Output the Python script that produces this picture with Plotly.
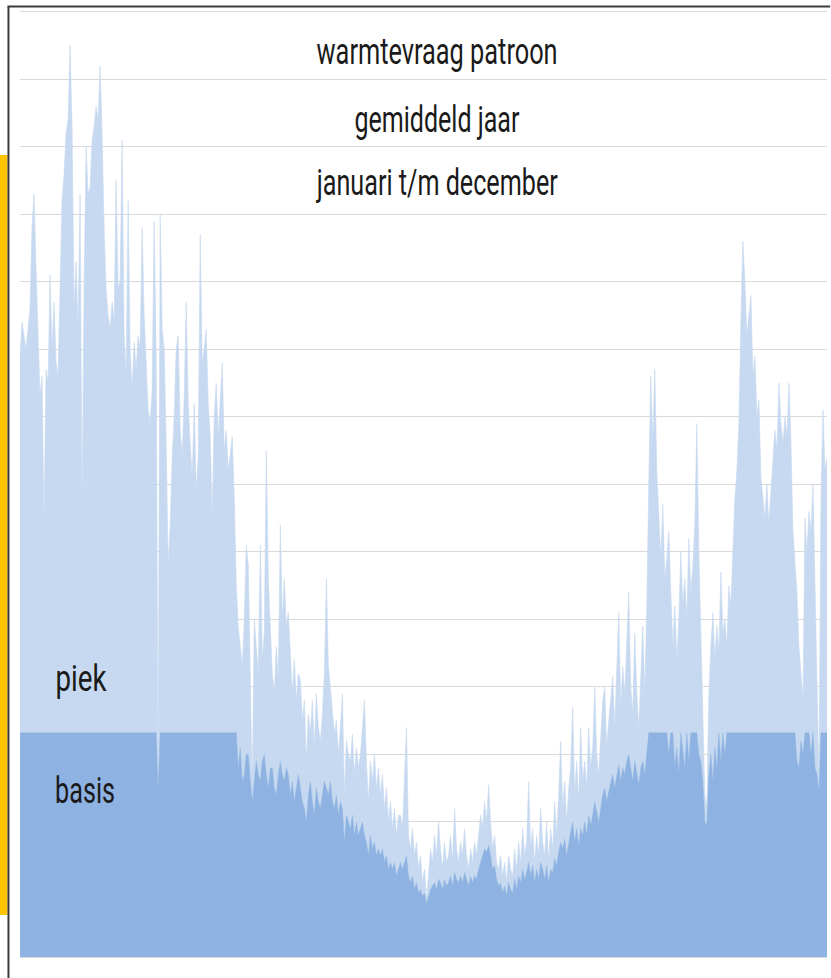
import numpy as np
import plotly.graph_objects as go

# Heat demand (hourly pattern, sampled), in grid units, Jan -> Dec
demand = [
    8.9, 9.4, 9.2, 9.0, 9.3, 9.6, 10.8, 11.3, 10.2, 9.4,
    8.3, 8.6, 6.4, 8.7, 8.5, 10.1, 9.0, 9.7, 8.8, 8.6,
    10.2, 11.2, 11.6, 12.2, 12.4, 13.5, 12.3, 9.6, 10.3, 9.3,
    11.3, 6.6, 9.9, 12.0, 11.3, 11.4, 12.1, 12.3, 12.6, 12.4,
    13.2, 12.2, 10.8, 9.9, 9.5, 9.3, 9.7, 9.4, 11.5, 9.9,
    10.0, 12.1, 9.2, 8.6, 11.2, 9.0, 8.4, 9.1, 8.7, 9.2,
    9.0, 10.8, 9.5, 8.7, 8.1, 7.9, 8.4, 10.9, 8.9, 2.45,
    11.0, 9.3, 9.0, 7.6, 5.8, 6.4, 7.4, 8.0, 9.0, 9.2,
    7.8, 7.4, 8.3, 9.7, 8.2, 7.6, 7.1, 8.2, 6.9, 7.4,
    10.7, 8.8, 9.0, 9.3, 8.2, 7.7, 6.5, 8.0, 8.5, 7.7,
    8.2, 8.8, 7.5, 7.8, 7.2, 7.5, 7.7, 6.8, 5.5, 4.9,
    4.6, 4.3, 5.0, 6.1, 5.8, 4.4, 2.5, 5.0, 4.6, 4.2,
    6.1, 4.4, 4.8, 7.5, 5.6, 4.9, 4.2, 3.9, 4.6, 4.1,
    6.4, 5.0, 5.6, 4.9, 5.1, 4.5, 3.9, 4.4, 3.8, 4.2,
    4.1, 3.5, 3.8, 2.9, 3.6, 3.3, 3.8, 3.1, 3.9, 3.4,
    3.2, 3.6, 4.2, 5.6, 4.3, 4.0, 3.6, 3.3, 3.5, 3.0,
    3.4, 3.9, 2.4, 3.2, 3.0, 2.9, 3.3, 2.7, 3.1, 2.8,
    3.0, 3.4, 3.8, 2.9, 2.3, 2.9, 2.6, 3.0, 2.5, 2.8,
    2.4, 2.7, 2.2, 2.5, 2.0, 2.3, 1.9, 2.2, 1.8, 2.1,
    2.1, 1.9, 2.6, 3.4, 1.8, 1.6, 1.9, 1.5, 1.7, 1.3,
    1.5, 1.1, 1.3, 0.85, 1.2, 1.6, 1.4, 1.8, 1.5, 2.0,
    1.6, 1.3, 1.7, 1.4, 1.5, 1.8, 1.4, 2.2, 1.6, 1.4,
    1.7, 1.5, 1.9, 1.5, 1.3, 1.6, 1.4, 1.7, 1.5, 1.8,
    2.1, 1.9, 2.3, 2.0, 2.55, 2.0, 1.6, 1.8, 1.4, 1.3,
    1.5, 1.2, 1.4, 1.1, 1.5, 1.3, 1.2, 1.6, 1.3, 1.7,
    1.4, 1.9, 1.5, 1.7, 2.6, 1.6, 1.9, 1.4, 1.8, 1.5,
    2.2, 1.7, 1.5, 2.0, 1.4, 1.9, 1.6, 2.3, 1.8, 2.4,
    3.2, 2.2, 2.6, 2.0, 2.5, 2.8, 3.7, 2.4, 2.9, 2.3,
    3.4, 2.6, 2.9, 2.5, 3.4, 2.8, 3.1, 4.0, 3.0, 2.7,
    3.3, 3.8, 4.0, 3.1, 3.5, 3.9, 4.15, 3.4, 4.2, 5.1,
    3.7, 4.3, 3.9, 4.6, 5.4, 4.0, 3.6, 4.8, 3.9, 3.4,
    4.3, 4.9, 3.9, 5.2, 7.0, 8.6, 7.6, 8.7, 7.2, 6.4,
    5.9, 6.7, 5.6, 5.9, 6.3, 5.4, 4.6, 5.2, 4.4, 5.0,
    6.0, 5.2, 5.6, 5.0, 6.2, 5.4, 5.8, 6.4, 7.9, 6.0,
    4.8, 3.6, 2.4, 2.2, 3.9, 4.6, 5.1, 4.4, 4.9, 4.5,
    5.7, 4.8, 5.0, 4.6, 5.5, 5.2, 6.1, 6.8, 7.2, 7.9,
    9.4, 10.6, 10.0, 9.2, 9.5, 9.8, 8.6, 8.9, 8.0, 8.25,
    7.1, 6.8, 6.5, 7.0, 6.4, 6.9, 7.4, 7.8, 7.5, 8.5,
    7.9, 7.6, 8.0, 7.7, 8.5, 7.6, 6.3, 5.8, 5.4, 4.6,
    4.2, 3.8, 6.5, 6.0, 6.6, 6.3, 7.0, 5.5, 3.8, 2.6,
    6.8, 8.1, 7.2, 7.4,
]

# Base load (basis), same sampling
basis = [
    3.32, 3.32, 3.32, 3.32, 3.32, 3.32, 3.32, 3.32, 3.32, 3.32,
    3.32, 3.32, 3.32, 3.32, 3.32, 3.32, 3.32, 3.32, 3.32, 3.32,
    3.32, 3.32, 3.32, 3.32, 3.32, 3.32, 3.32, 3.32, 3.32, 3.32,
    3.32, 3.32, 3.32, 3.32, 3.32, 3.32, 3.32, 3.32, 3.32, 3.32,
    3.32, 3.32, 3.32, 3.32, 3.32, 3.32, 3.32, 3.32, 3.32, 3.32,
    3.32, 3.32, 3.32, 3.32, 3.32, 3.32, 3.32, 3.32, 3.32, 3.32,
    3.32, 3.32, 3.32, 3.32, 3.32, 3.32, 3.32, 3.32, 3.32, 2.45,
    3.32, 3.32, 3.32, 3.32, 3.32, 3.32, 3.32, 3.32, 3.32, 3.32,
    3.32, 3.32, 3.32, 3.32, 3.32, 3.32, 3.32, 3.32, 3.32, 3.32,
    3.32, 3.32, 3.32, 3.32, 3.32, 3.32, 3.32, 3.32, 3.32, 3.32,
    3.32, 3.32, 3.32, 3.32, 3.32, 3.32, 3.32, 3.32, 3.32, 2.8,
    3.1, 2.6, 2.7, 3.0, 3.0, 2.6, 2.3, 2.6, 2.9, 2.7,
    2.6, 2.9, 3.0, 2.7, 2.5, 2.8, 2.8, 2.5, 2.4, 2.7,
    2.9, 2.7, 2.6, 2.8, 2.7, 2.4, 2.6, 2.3, 2.5, 2.7,
    2.5, 2.3, 2.2, 2.0, 2.4, 2.6, 2.3, 2.1, 2.5, 2.3,
    2.2, 2.4, 2.6, 2.5, 2.4, 2.6, 2.3, 2.2, 2.4, 2.1,
    2.3, 2.2, 1.7, 2.1, 2.0, 1.9, 2.1, 1.8, 2.0, 1.8,
    1.9, 2.0, 1.8, 1.7, 1.5, 1.8, 1.6, 1.7, 1.5, 1.6,
    1.5, 1.6, 1.4, 1.5, 1.3, 1.4, 1.3, 1.4, 1.2, 1.3,
    1.4, 1.3, 1.4, 1.5, 1.2, 1.1, 1.2, 1.0, 1.1, 0.95,
    1.0, 0.9, 0.95, 0.78, 0.9, 1.0, 1.05, 1.1, 1.0, 1.15,
    1.1, 1.0, 1.15, 1.05, 1.1, 1.2, 1.05, 1.25, 1.15, 1.1,
    1.2, 1.1, 1.25, 1.15, 1.05, 1.2, 1.1, 1.2, 1.15, 1.3,
    1.4, 1.5, 1.6, 1.55, 1.65, 1.5, 1.3, 1.35, 1.15, 1.05,
    1.1, 0.95, 1.05, 0.9, 1.1, 1.0, 0.95, 1.15, 1.0, 1.2,
    1.1, 1.3, 1.15, 1.25, 1.4, 1.2, 1.35, 1.1, 1.3, 1.15,
    1.4, 1.3, 1.15, 1.35, 1.1, 1.3, 1.25, 1.45, 1.35, 1.55,
    1.7, 1.6, 1.75, 1.5, 1.7, 1.85, 2.0, 1.7, 1.9, 1.65,
    1.9, 1.8, 2.0, 1.8, 2.1, 1.95, 2.1, 2.3, 2.15, 2.0,
    2.2, 2.4, 2.5, 2.3, 2.45, 2.6, 2.7, 2.5, 2.7, 2.85,
    2.6, 2.8, 2.7, 2.9, 3.0, 2.8, 2.6, 2.9, 2.7, 2.55,
    2.8, 2.9, 2.7, 3.0, 3.32, 3.32, 3.32, 3.32, 3.32, 3.32,
    3.32, 3.32, 3.32, 3.32, 3.0, 3.32, 3.32, 2.8, 3.1, 2.7,
    3.32, 3.1, 2.8, 3.32, 2.9, 3.32, 3.32, 3.32, 3.32, 3.0,
    2.9, 2.6, 2.0, 1.95, 2.7, 3.0, 2.6, 3.1, 2.8, 3.32,
    2.9, 3.32, 3.0, 3.32, 3.32, 3.32, 3.32, 3.32, 3.32, 3.32,
    3.32, 3.32, 3.32, 3.32, 3.32, 3.32, 3.32, 3.32, 3.32, 3.32,
    3.32, 3.32, 3.32, 3.32, 3.32, 3.32, 3.32, 3.32, 3.32, 3.32,
    3.32, 3.32, 3.32, 3.32, 3.32, 3.32, 3.32, 3.32, 2.9, 2.8,
    3.2, 3.0, 3.32, 3.32, 3.32, 3.0, 3.32, 2.8, 2.7, 2.45,
    3.32, 3.32, 3.32, 3.32,
]

title_lines = ["warmtevraag patroon", "gemiddeld jaar", "januari t/m december"]
series_labels = ["piek", "basis"]

LIGHT = "#C6D9F0"
DARK = "#8EB2E1"
FONT = "Roboto, 'Liberation Sans', sans-serif"
TXT = "#1a1a1a"

days = np.linspace(0, 365, len(demand))

fig = go.Figure()
fig.add_trace(go.Scatter(x=days, y=demand, mode="lines", fill="tozeroy",
                         line=dict(color=LIGHT, width=0.6), fillcolor=LIGHT,
                         name="piek", hoverinfo="skip"))
fig.add_trace(go.Scatter(x=days, y=basis, mode="lines", fill="tozeroy",
                         line=dict(color=DARK, width=0.4), fillcolor=DARK,
                         name="basis", hoverinfo="skip"))

annotations = []
for txt, xv, yv in zip(title_lines, [188.6, 188.4, 188.6], [13.41, 12.40, 11.47]):
    annotations.append(dict(x=xv, y=yv, xref="x", yref="y", text=txt,
                            showarrow=False, xanchor="center", yanchor="middle",
                            font=dict(family=FONT, size=37, color=TXT)))
for txt, xv, yv in zip(series_labels, [27.4, 29.4], [4.13, 2.47]):
    annotations.append(dict(x=xv, y=yv, xref="x", yref="y", text=txt,
                            showarrow=False, xanchor="center", yanchor="middle",
                            font=dict(family=FONT, size=37, color=TXT)))

shapes = [
    # yellow side bar
    dict(type="rect", xref="paper", yref="paper", x0=-0.0248, x1=-0.0155,
         y0=0.0442, y1=0.8442, fillcolor="#FFC400", line=dict(width=0), layer="above"),
    # frame (left + top)
    dict(type="line", xref="paper", yref="paper", x0=-0.0143, x1=-0.0143,
         y0=-0.03, y1=1.0005, line=dict(color="#3c3c3c", width=2)),
    dict(type="line", xref="paper", yref="paper", x0=-0.0155, x1=1.004,
         y0=1.0005, y1=1.0005, line=dict(color="#3c3c3c", width=2)),
]

fig.update_layout(
    width=831, height=978,
    margin=dict(l=20, r=4, t=7, b=21),
    paper_bgcolor="white", plot_bgcolor="white",
    showlegend=False,
    annotations=annotations,
    shapes=shapes,
    xaxis=dict(range=[0, 365], showgrid=False, zeroline=False, showticklabels=False,
               ticks="", showline=True, linecolor="#D9D9D9", linewidth=1),
    yaxis=dict(range=[0, 14.07], dtick=1, showgrid=True, gridcolor="#D9D9D9",
               gridwidth=1, zeroline=False, showticklabels=False, ticks=""),
)

# page margin/scrollbar off, and narrow (condensed) rendering of the labels to their widths
post_js = """
document.body.style.margin = '0';
document.body.style.overflow = 'hidden';
document.documentElement.style.overflow = 'hidden';
var st = document.createElement('style');
st.textContent = 'html,body{margin:0;padding:0;overflow:hidden;scrollbar-width:none;} ::-webkit-scrollbar{display:none;width:0;height:0;}';
document.head.appendChild(st);
var gd = document.getElementById('{plot_id}');
var widths = {'warmtevraag patroon': 241, 'gemiddeld jaar': 165,
              'januari t/m december': 241, 'piek': 51, 'basis': 60};
function narrow() {
  gd.querySelectorAll('text.annotation-text').forEach(function (t) {
    var w = widths[t.textContent];
    if (w) { t.setAttribute('textLength', w); t.setAttribute('lengthAdjust', 'spacingAndGlyphs'); }
  });
}
narrow();
gd.on('plotly_afterplot', narrow);
"""

fig.write_html("out.html", config={"displayModeBar": False}, post_script=post_js)
